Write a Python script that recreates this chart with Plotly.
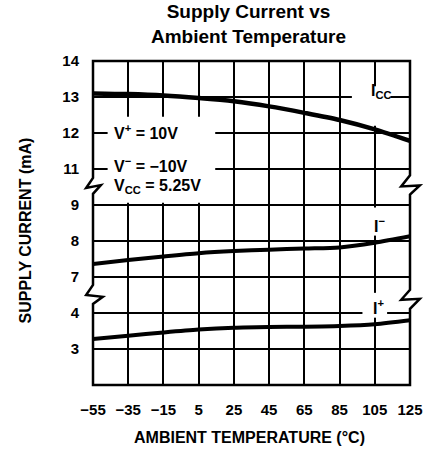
import plotly.graph_objects as go

# ---- data ----
temps = [-55, -35, -15, 5, 25, 45, 65, 85, 105, 125]
icc = [13.10, 13.08, 13.04, 12.97, 12.88, 12.74, 12.56, 12.36, 12.10, 11.78]
i_minus = [7.36, 7.47, 7.57, 7.66, 7.72, 7.76, 7.79, 7.82, 7.95, 8.13]
i_plus = [3.28, 3.37, 3.46, 3.54, 3.59, 3.61, 3.62, 3.64, 3.69, 3.80]

x_ticktext = ["\u221255", "\u221235", "\u221215", "5", "25", "45", "65", "85", "105", "125"]
y_ticktext = ["3", "4", "7", "8", "9", "11", "12", "13", "14"]

# broken axis: each segment is shifted onto a common linear "row" scale
OFF_ICC = 5.0   # 11..14 mA -> rows 6..9
OFF_IM = 4.0    # 7..9 mA  -> rows 3..5
OFF_IP = 2.0    # 2..4 mA  -> rows 0..2

FONT = "Liberation Sans, Arial, Helvetica, sans-serif"

fig = go.Figure()
for vals, off, w in [(icc, OFF_ICC, 4.5), (i_minus, OFF_IM, 4), (i_plus, OFF_IP, 4)]:
    fig.add_trace(go.Scatter(
        x=temps, y=[v - off for v in vals], mode="lines",
        line=dict(color="black", width=w, shape="spline", smoothing=0.8),
        showlegend=False, hoverinfo="skip", cliponaxis=False))

# white boxes behind the in-plot labels (hide the grid there)
def wbox(x0, x1, y0, y1):
    fig.add_shape(type="rect", xref="x", yref="y", x0=x0, x1=x1, y0=y0, y1=y1,
                  fillcolor="white", line=dict(width=0), layer="between")

wbox(-46.7, 14.4, 5.06, 7.45)
wbox(92.0, 114.0, 7.2, 8.3)
wbox(99.0, 112.0, 4.15, 4.93)
wbox(98.0, 112.0, 1.87, 2.56)

# frame with break marks
frame = ("M 0,1 L 0,0.639 L -0.0216,0.608 L 0.0247,0.617 L 0,0.590 "
         "L 0,0.309 L -0.0216,0.278 L 0.0309,0.272 L 0,0.250 "
         "L 0,0 L 1,0 L 1,0.235 L 1.0309,0.266 L 0.9722,0.263 L 1,0.294 "
         "L 1,0.588 L 1.0309,0.616 L 0.9722,0.613 L 1,0.647 L 1,1 Z")
fig.add_shape(type="path", xref="paper", yref="paper", path=frame,
              line=dict(color="black", width=2.5), layer="above")

lbl = dict(family=FONT, size=16, color="black", weight="bold")
ann = [
    dict(text="V<sup>+</sup> = 10V", x=0.059, y=0.781, xanchor="left"),
    dict(text="V<sup>\u2212</sup> = \u221210V", x=0.059, y=0.679, xanchor="left"),
    dict(text="V<sub>CC</sub> = 5.25V", x=0.059, y=0.614, xanchor="left"),
    dict(text="I<sub>CC</sub>", x=0.91, y=0.905, xanchor="center"),
    dict(text="I<sup>\u2212</sup>", x=0.905, y=0.494, xanchor="center"),
    dict(text="I<sup>+</sup>", x=0.90, y=0.24, xanchor="center"),
]
for a in ann:
    fig.add_annotation(xref="paper", yref="paper", showarrow=False,
                       yanchor="middle", font=lbl, **a)

# titles
fig.add_annotation(text="Supply Current vs<br>Ambient Temperature", xref="paper", yref="paper",
                   x=0.49, y=(385 - 23.5) / 324, showarrow=False, yanchor="middle",
                   font=dict(family=FONT, size=19, color="black", weight="bold"))
fig.add_annotation(text="AMBIENT TEMPERATURE (\u00b0C)", xref="paper", yref="paper",
                   x=0.494, y=(385 - 437) / 324, showarrow=False, yanchor="middle",
                   font=dict(family=FONT, size=16, color="black", weight="bold"))
fig.add_annotation(text="SUPPLY CURRENT (mA)", xref="paper", yref="paper",
                   x=(24 - 93) / 324, y=(385 - 230) / 324, showarrow=False,
                   textangle=-90, xanchor="center", yanchor="middle",
                   font=dict(family=FONT, size=16, color="black", weight="bold"))

fig.update_xaxes(range=[-55, 125], tickvals=temps, ticktext=x_ticktext,
                 showgrid=True, gridcolor="black", gridwidth=2,
                 zeroline=False, showline=False, ticks="",
                 ticklabelstandoff=14,
                 tickfont=dict(family=FONT, size=15, color="black", weight="bold"))
fig.update_yaxes(range=[0, 9], tickvals=list(range(0, 10)),
                 ticktext=[""] + y_ticktext,
                 showgrid=True, gridcolor="black", gridwidth=1.5,
                 zeroline=False, showline=False, ticks="",
                 ticklabelstandoff=13,
                 tickfont=dict(family=FONT, size=15, color="black", weight="bold"))

fig.update_layout(width=435, height=454, margin=dict(l=93, r=18, t=61, b=69),
                  paper_bgcolor="white", plot_bgcolor="white", showlegend=False)

fig.write_html("out.html", config={"displayModeBar": False, "staticPlot": True},
               post_script="document.body.style.margin='0px';")
